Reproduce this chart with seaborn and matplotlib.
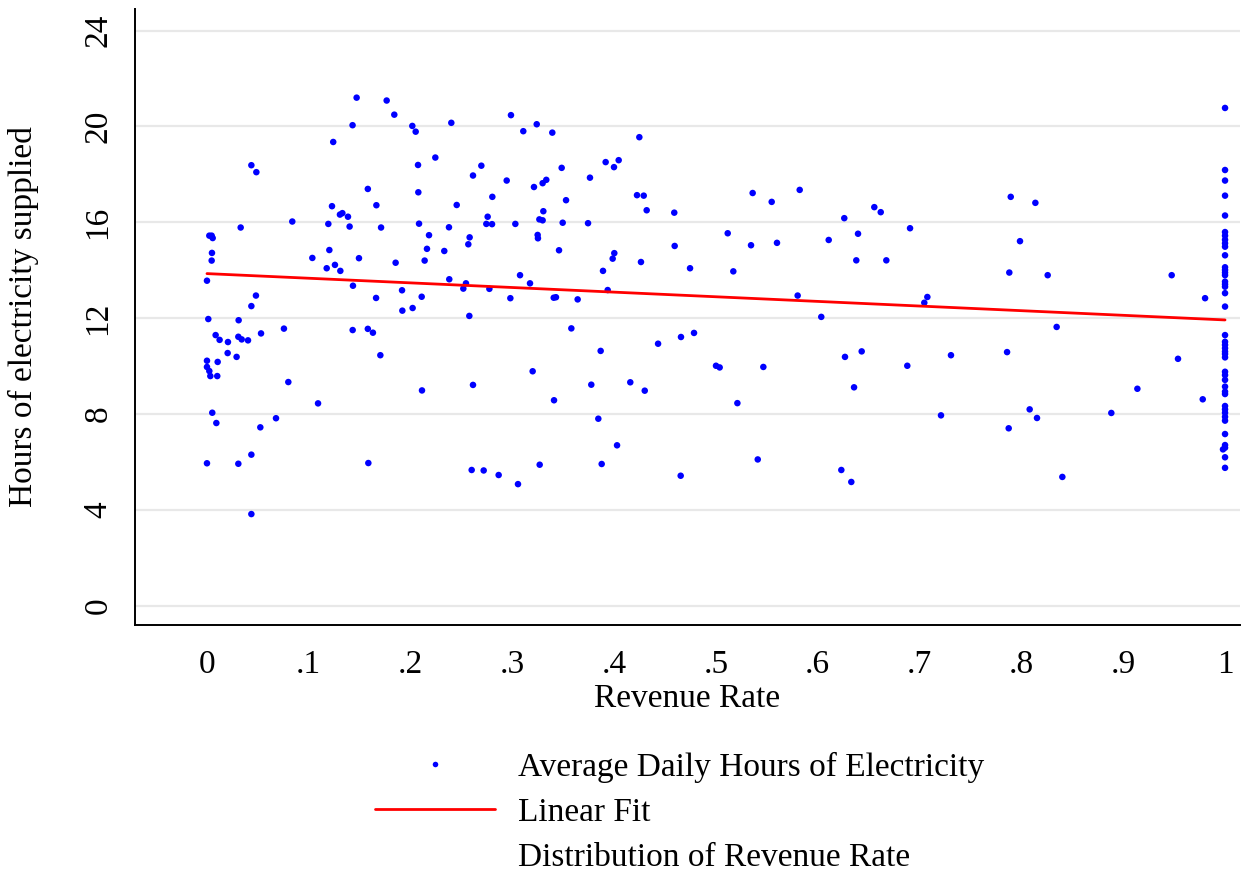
import numpy as np
import pandas as pd
import matplotlib
matplotlib.use("Agg")
import matplotlib.pyplot as plt
from matplotlib.lines import Line2D
import seaborn as sns

# ---- data ----
revenue_rate = [
    0.147, 0.1765, 0.143, 0.124, 0.0436, 0.0485, 0.158, 0.1664, 0.1228, 0.1306, 0.133, 0.1385,
    0.0838, 0.1192, 0.1401, 0.171, 0.0331, 0.0023, 0.0046, 0.0056, 0.0049, 0.0046, 0.1202, 0.1035,
    0.1493, 0.1176, 0.1257, 0.131, 0.0, 0.1434, 0.1661, 0.0481, 0.0436, 0.0013, 0.0311, 0.0756,
    0.1431, 0.158, 0.163, 0.0085, 0.0124, 0.0206, 0.0308, 0.0341, 0.0403, 0.0531, 0.1703, 0.0203,
    0.0291, 0.0105, 0.0, 0.0, 0.0023, 0.0033, 0.0101, 0.0799, 0.1091, 0.0052, 0.0092, 0.0678,
    0.0524, 0.0436, 0.0, 0.0308, 0.1585, 0.0436,
    0.184, 0.2017, 0.205, 0.24, 0.2986, 0.3107, 0.3239, 0.3392, 0.2243, 0.2073, 0.2695, 0.3484,
    0.2613, 0.2944, 0.3212, 0.3297, 0.3333, 0.2076, 0.2803, 0.2453, 0.3527, 0.3304, 0.2757, 0.2744,
    0.28, 0.3029, 0.3265, 0.3297, 0.3494, 0.2083, 0.2377, 0.2181, 0.258, 0.2567, 0.3248, 0.3251,
    0.2161, 0.2331, 0.3458, 0.2138, 0.1853, 0.3075, 0.3173, 0.238, 0.2544, 0.2518, 0.2774, 0.1916,
    0.2109, 0.298, 0.3406, 0.3428, 0.3641, 0.1919, 0.202, 0.2577, 0.3579, 0.2112, 0.2613, 0.3199,
    0.3409, 0.26, 0.2718, 0.2865, 0.3055, 0.3268,
    0.4247, 0.3916, 0.3998, 0.4044, 0.3762, 0.4224, 0.429, 0.4319, 0.459, 0.536, 0.5547, 0.3743,
    0.5115, 0.4594, 0.5344, 0.5599, 0.4001, 0.3985, 0.4263, 0.4745, 0.389, 0.517, 0.3936, 0.3867,
    0.4431, 0.4656, 0.4784, 0.5, 0.5036, 0.5465, 0.3775, 0.4158, 0.43, 0.521, 0.3844, 0.4028,
    0.3877, 0.4653, 0.541,
    0.5822, 0.6555, 0.6618, 0.626, 0.6906, 0.6395, 0.6107, 0.6378, 0.6673, 0.5802, 0.7076, 0.7046,
    0.6034, 0.6267, 0.6431, 0.6879, 0.7308, 0.6356, 0.721, 0.6231, 0.6329,
    0.7895, 0.8137, 0.7986, 0.7881, 0.8258, 0.9476, 0.9804, 0.8346, 0.7859, 0.9538, 0.9139, 0.9781,
    0.8081, 0.8153, 0.8883, 0.7875, 0.8402, 0.998,
]
hours = [
    21.2, 21.08, 20.05, 19.35, 18.38, 18.09, 17.39, 16.71, 16.67, 16.32, 16.38, 16.23,
    16.03, 15.93, 15.82, 15.78, 15.78, 15.44, 15.44, 15.34, 14.72, 14.40, 14.84, 14.51,
    14.50, 14.08, 14.22, 13.97, 13.56, 13.35, 12.84, 12.94, 12.50, 11.96, 11.91, 11.56,
    11.50, 11.55, 11.39, 11.29, 11.09, 11.0, 11.22, 11.11, 11.07, 11.36, 10.45, 10.54,
    10.38, 10.17, 10.22, 9.96, 9.79, 9.58, 9.58, 9.33, 8.44, 8.05, 7.62, 7.82,
    7.44, 6.30, 5.94, 5.92, 5.95, 3.82,
    20.49, 20.02, 19.78, 20.15, 20.47, 19.8, 20.09, 19.74, 18.70, 18.39, 18.36, 18.27,
    17.95, 17.74, 17.47, 17.63, 17.77, 17.25, 17.06, 16.72, 16.92, 16.46, 16.23, 15.93,
    15.92, 15.93, 16.12, 16.08, 15.98, 15.94, 15.79, 15.46, 15.37, 15.08, 15.47, 15.33,
    14.89, 14.80, 14.83, 14.40, 14.31, 13.79, 13.45, 13.62, 13.45, 13.23, 13.22, 13.16,
    12.89, 12.83, 12.85, 12.87, 12.78, 12.31, 12.42, 12.09, 11.57, 8.98, 9.21, 9.78,
    8.57, 5.66, 5.64, 5.45, 5.07, 5.88,
    19.55, 18.51, 18.30, 18.59, 17.86, 17.13, 17.11, 16.50, 16.40, 17.22, 16.85, 15.96,
    15.54, 15.01, 15.04, 15.14, 14.71, 14.48, 14.34, 14.08, 13.97, 13.95, 13.17, 10.63,
    10.93, 11.21, 11.38, 10.01, 9.94, 9.96, 9.22, 9.32, 8.97, 8.45, 7.80, 6.69,
    5.91, 5.42, 6.10,
    17.35, 16.63, 16.42, 16.17, 15.75, 15.52, 15.26, 14.41, 14.41, 12.94, 12.88, 12.64,
    12.05, 10.38, 10.61, 10.01, 10.45, 9.11, 7.94, 5.66, 5.16,
    17.06, 16.81, 15.21, 13.90, 13.79, 13.79, 12.83, 11.63, 10.58, 10.30, 9.05, 8.61,
    8.19, 7.83, 8.04, 7.40, 5.37, 6.52,
]
# villages with full revenue collection (revenue rate = 1)
hours_at_full_rate = [
    20.77, 18.18, 17.74, 17.11, 16.28, 15.59, 15.44, 15.27, 15.12, 14.98, 14.62, 14.12,
    14.01, 13.90, 13.79, 13.52, 13.41, 13.31, 13.04, 12.48, 11.29, 11.01, 10.88, 10.74,
    10.60, 10.50, 10.36, 9.76, 9.62, 9.42, 9.14, 8.93, 8.83, 8.33, 8.19, 8.05,
    7.88, 7.72, 7.16, 6.70, 6.59, 6.19, 5.75,
]

x_ticks = [0, 0.1, 0.2, 0.3, 0.4, 0.5, 0.6, 0.7, 0.8, 0.9, 1.0]
x_tick_labels = ["0", ".1", ".2", ".3", ".4", ".5", ".6", ".7", ".8", ".9", "1"]
y_ticks = [0, 4, 8, 12, 16, 20, 24]
y_tick_labels = ["0", "4", "8", "12", "16", "20", "24"]
legend_labels = ["Average Daily Hours of Electricity", "Linear Fit",
                 "Distribution of Revenue Rate"]

df = pd.DataFrame({
    "rate": revenue_rate + [1.0] * len(hours_at_full_rate),
    "hours": hours + hours_at_full_rate,
})

# ---- style ----
sns.set_theme(style="white")
plt.rcParams["font.family"] = ["Liberation Serif", "DejaVu Serif"]
FS = 24

fig = plt.figure(figsize=(12.41, 8.75), dpi=100)
ax = fig.add_axes([135 / 1241, 1 - 625 / 875, (1240 - 135) / 1241, (625 - 9) / 875])

for yv in y_ticks:
    ax.axhline(yv, color="#e8e8e8", lw=1.6, zorder=0)

sns.scatterplot(data=df, x="rate", y="hours", ax=ax, color="#0000ff", s=22,
                edgecolor="none", linewidth=0, zorder=3, legend=False)
sns.regplot(data=df, x="rate", y="hours", ax=ax, scatter=False, ci=None,
            truncate=True, line_kws={"color": "#ff0000", "lw": 2.0, "zorder": 4})

ax.set_xlim(-0.0707, 1.0147)
ax.set_ylim(-0.81, 24.9)
ax.set_xticks(x_ticks)
ax.set_xticklabels(x_tick_labels)
ax.set_yticks(y_ticks)
ax.set_yticklabels(y_tick_labels, rotation=90, va="center")
ax.tick_params(axis="both", direction="out", length=9.5, width=1.4, colors="black",
               labelsize=FS)
ax.tick_params(axis="x", pad=8)
ax.tick_params(axis="y", pad=6)
for side in ["top", "right"]:
    ax.spines[side].set_visible(False)
for side in ["left", "bottom"]:
    ax.spines[side].set_color("black")
    ax.spines[side].set_linewidth(1.4)

ax.set_xlabel("Revenue Rate", fontsize=FS, color="black", labelpad=3)
ax.set_ylabel("Hours of electricity supplied", fontsize=FS, color="black", labelpad=32)

handles = [
    Line2D([], [], linestyle="none", marker="o", markersize=4, color="#0000ff",
           markeredgewidth=0),
    Line2D([], [], color="#ff0000", lw=2.0),
    Line2D([], [], linestyle="none", marker=None),
]
fig.legend(handles, legend_labels, loc="upper left", bbox_to_anchor=(375 / 1241, 1 - 752 / 875),
           frameon=False, fontsize=FS, handlelength=3.6, handletextpad=0.7,
           labelspacing=0.43, borderpad=0, borderaxespad=0, labelcolor="black")

fig.savefig("out.png", dpi=100)
